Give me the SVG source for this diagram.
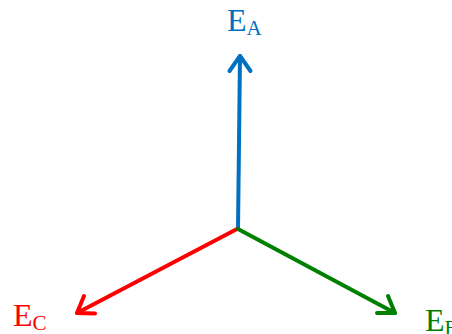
<svg xmlns="http://www.w3.org/2000/svg" width="452" height="334" viewBox="0 0 452 334">
<style>
.lbl{font-family:"Liberation Serif","Times New Roman",serif;font-size:32px}
.sub{font-size:21px}
.ln{fill:none;stroke-width:4;stroke-linecap:round;stroke-linejoin:round}
</style>
<rect width="452" height="334" fill="#fff"/>
<g id="connectors">
<g id="arrow-a" stroke="#0070C0" class="ln">
<line x1="238" y1="229" x2="240" y2="56"/>
<polyline points="229.5,71 240,56 250.5,71"/>
</g>
<g id="arrow-c" stroke="#FF0000" class="ln">
<line x1="237" y1="229" x2="77" y2="313"/>
<polyline points="84,296 77,313 95,313.5"/>
</g>
<g id="arrow-b" stroke="#008000" class="ln">
<line x1="238" y1="229" x2="395" y2="313"/>
<polyline points="377,313 395,313 388,296"/>
</g>
</g>
<g id="label-a" fill="#0070C0"><text class="lbl" x="227" y="31">E<tspan class="sub" dy="4">A</tspan></text></g>
<g id="label-c" fill="#FF0000"><text class="lbl" x="13" y="326">E<tspan class="sub" dy="4">C</tspan></text></g>
<g id="label-b" fill="#008000"><text class="lbl" x="425" y="331">E<tspan class="sub" dy="4">B</tspan></text></g>
</svg>
